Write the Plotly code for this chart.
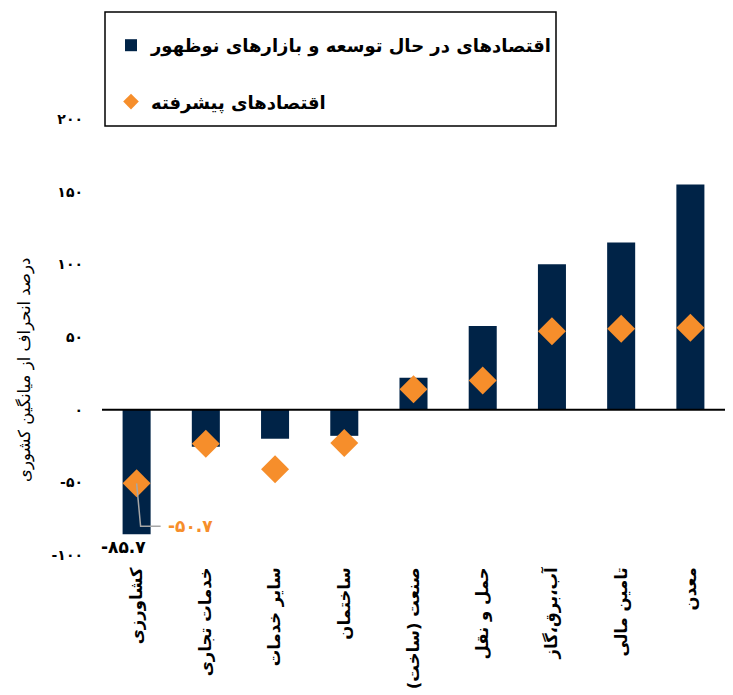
import plotly.graph_objects as go

categories = ["کشاورزی", "خدمات تجاری", "سایر خدمات", "ساختمان", "صنعت (ساخت)\u200f",
              "حمل و نقل", "آب،برق،گاز", "تامین مالی", "معدن"]
emerging = [-85.7, -25.5, -20.0, -18.0, 22.0, 57.5, 100.0, 115.0, 155.0]
advanced = [-50.7, -23.5, -41.0, -23.0, 14.0, 20.0, 54.0, 55.7, 56.4]
tick_vals = [-100, -50, 0, 50, 100, 150, 200]

name_emerging = "اقتصادهای در حال توسعه و بازارهای نوظهور"
name_advanced = "اقتصادهای پیشرفته"
y_title = "درصد انحراف از میانگین کشوری"

FA = str.maketrans("0123456789", "۰۱۲۳۴۵۶۷۸۹")
def fa(v):
    s = ("%g" % v)
    return s.translate(FA)

NAVY = "#002347"
ORANGE = "#F68E2B"
FONT = "DejaVu Sans"

# page body has an 8px margin; the figure is sized so the plot lands where intended
fig = go.Figure()
fig.add_trace(go.Bar(x=categories, y=emerging, name=name_emerging, width=0.405,
                     marker=dict(color=NAVY, line=dict(width=0)),
                     legendgroup="a"))
fig.add_trace(go.Scatter(x=categories, y=advanced, name=name_advanced, mode="markers",
                         marker=dict(symbol="diamond", size=21.5, color=ORANGE),
                         legendgroup="b"))

# zero baseline
fig.add_shape(type="line", xref="paper", x0=0, x1=1, yref="y", y0=0, y1=0,
              line=dict(color="black", width=2), layer="above")

# value labels
fig.add_annotation(x=categories[0], y=emerging[0], text="<b>" + fa(emerging[0]) + "</b>",
                   showarrow=False, yanchor="top", xshift=-13, yshift=-1,
                   font=dict(family=FONT, size=17, color="black"))
fig.add_annotation(x=categories[0], y=advanced[0], text="<b>" + fa(advanced[0]) + "</b>",
                   showarrow=False, xanchor="left", yanchor="middle", xshift=29, yshift=-43,
                   font=dict(family=FONT, size=17, color=ORANGE))
fig.add_shape(type="path", xref="x", yref="y", xsizemode="pixel", ysizemode="pixel",
              xanchor=0, yanchor=advanced[0], path="M0,0 L4,-43 L24,-43",
              line=dict(color="#a6a6a6", width=1.5), layer="above")

# y title
fig.add_annotation(xref="paper", yref="paper", x=-0.124, y=0.424, text=y_title,
                   textangle=-90, showarrow=False, xanchor="center", yanchor="middle",
                   font=dict(family=FONT, size=16.5, color="black"))

# legend box
fig.add_shape(type="rect", xref="paper", yref="paper",
              x0=(105 - 102) / 623, x1=(556 - 102) / 623,
              y0=(555 - 126) / 436, y1=(555 - 12) / 436,
              line=dict(color="black", width=1.5), fillcolor="white", layer="below")

fig.update_layout(
    width=725, height=687,
    margin=dict(l=94, r=8, t=111, b=140, autoexpand=False),
    plot_bgcolor="white", paper_bgcolor="white",
    font=dict(family=FONT, color="black"),
    showlegend=True,
    legend=dict(x=(111 - 102) / 623, y=(555 - 27) / 436, xanchor="left", yanchor="top",
                bgcolor="rgba(0,0,0,0)", borderwidth=0, traceorder="grouped",
                tracegroupgap=30, itemsizing="constant",
                font=dict(family=FONT, size=18, color="black", weight="bold")),
    xaxis=dict(range=[-0.5, len(categories) - 0.5], showgrid=False, zeroline=False,
               showline=False, ticks="", automargin=False, ticklabelstandoff=8,
               tickangle=-90, tickfont=dict(family=FONT, size=16.5, color="black", weight="bold")),
    yaxis=dict(range=[-100, 200], showgrid=False, zeroline=False, showline=False, ticks="",
               automargin=False,
               tickvals=tick_vals, ticktext=[fa(v) for v in tick_vals],
               ticklabelstandoff=18,
               tickfont=dict(family=FONT, size=14, color="black", weight="bold")),
)

fig.write_html("out.html")
